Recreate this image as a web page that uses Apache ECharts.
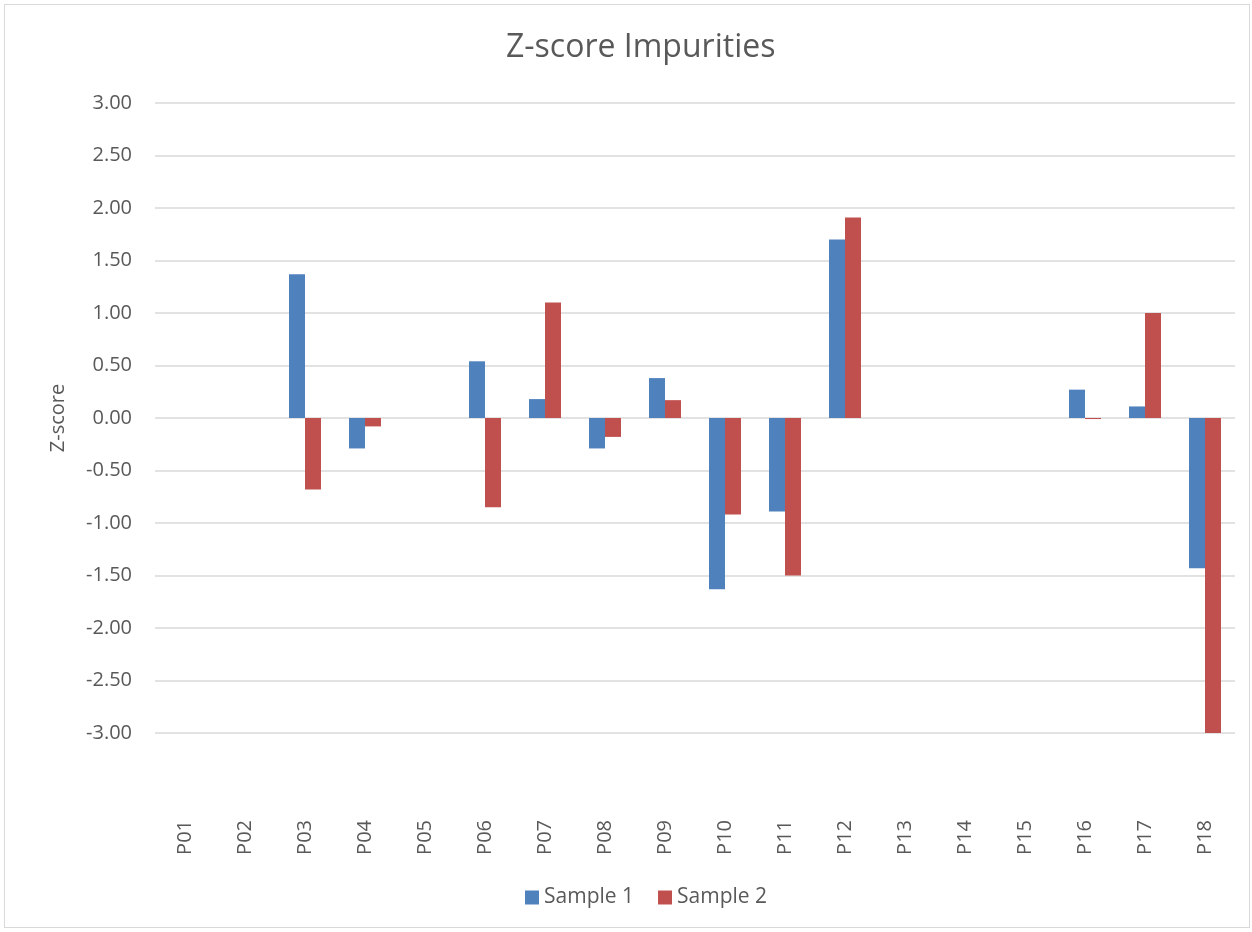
<!DOCTYPE html>
<html>
<head>
<meta charset="utf-8">
<script src="https://cdn.jsdelivr.net/npm/echarts@6/dist/echarts.min.js"></script>
<style>
html,body{margin:0;padding:0;background:#fff;}
#frame{position:absolute;left:4px;top:4px;width:1246px;height:924px;border:1px solid #d9d9d9;box-sizing:border-box;}
#chart{position:absolute;left:0;top:0;width:1252px;height:932px;}
</style>
</head>
<body>
<div id="frame"></div>
<div id="chart"></div>
<script>
const categories = ['P01','P02','P03','P04','P05','P06','P07','P08','P09','P10','P11','P12','P13','P14','P15','P16','P17','P18'];
const sample1 = [null, null, 1.37, -0.29, null, 0.54, 0.18, -0.29, 0.38, -1.63, -0.89, 1.70, null, null, null, 0.27, 0.11, -1.43];
const sample2 = [null, null, -0.68, -0.08, null, -0.85, 1.10, -0.18, 0.17, -0.92, -1.50, 1.91, null, null, null, -0.01, 1.00, -3.01];
const seriesNames = ['Sample 1', 'Sample 2'];
const titleText = 'Z-score Impurities';
const yTitle = 'Z-score';

const FONT = '"Open Sans", "Noto Sans", sans-serif';
const chart = echarts.init(document.getElementById('chart'));
chart.setOption({
  backgroundColor: 'transparent',
  animation: false,
  title: {
    text: titleText,
    left: 501,
    top: 27,
    textStyle: {fontFamily: FONT, fontSize: 32, fontWeight: 'normal', color: '#595959'}
  },
  legend: {
    data: seriesNames,
    bottom: 19,
    left: 520,
    itemWidth: 14,
    itemHeight: 14,
    itemGap: 24,
    icon: 'rect',
    textStyle: {fontFamily: FONT, fontSize: 21, color: '#595959'}
  },
  grid: {left: 155, right: 17, top: 103, bottom: 199, containLabel: false},
  xAxis: {
    type: 'category',
    data: categories,
    position: 'bottom',
    axisLine: {show: false, onZero: false},
    axisTick: {show: false},
    splitLine: {show: false},
    axisLabel: {rotate: 90, margin: 87, fontFamily: FONT, fontSize: 20, color: '#595959'}
  },
  yAxis: {
    type: 'value',
    min: -3,
    max: 3,
    interval: 0.5,
    name: yTitle,
    nameLocation: 'middle',
    nameGap: 87,
    nameTextStyle: {fontFamily: FONT, fontSize: 20, color: '#595959'},
    axisLine: {show: false},
    axisTick: {show: false},
    splitLine: {lineStyle: {color: '#d9d9d9', width: 1.5}},
    axisLabel: {margin: 23, fontFamily: FONT, fontSize: 20, color: '#595959', formatter: v => v.toFixed(2)}
  },
  series: [
    {name: seriesNames[0], type: 'bar', data: sample1, barWidth: 16, barGap: '0%', itemStyle: {color: '#4F81BD'}},
    {name: seriesNames[1], type: 'bar', data: sample2, barWidth: 16, barGap: '0%', itemStyle: {color: '#C0504D'}}
  ]
});
</script>
</body>
</html>
